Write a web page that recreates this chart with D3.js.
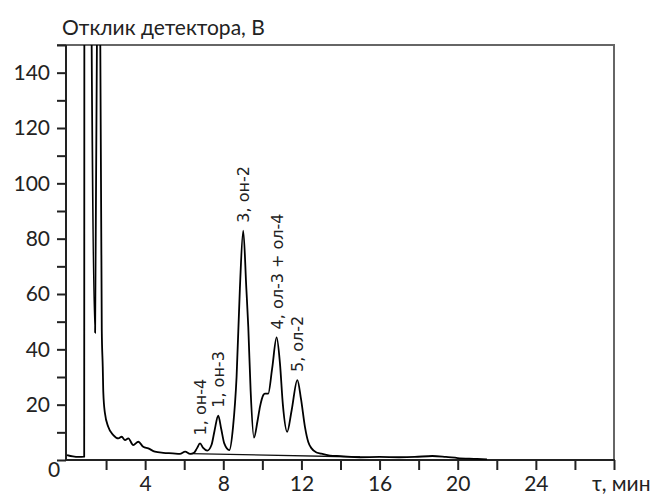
<!DOCTYPE html>
<html>
<head>
<meta charset="utf-8">
<script src="https://cdn.jsdelivr.net/npm/d3@7"></script>
<style>
  body { margin: 0; background: #fff; }
  svg text { font-family: Lato, "Liberation Sans", sans-serif; }
</style>
</head>
<body>
<svg id="chart" width="656" height="495"></svg>
<script>
// хроматограмма: время (мин) и отклик детектора (В)
const times = [
  0.00, 0.30, 0.60, 0.88, 0.895, 1.10, 1.255, 1.44, 1.54, 1.60, 1.68, 1.69,
  1.78, 1.83, 1.86, 1.94, 2.11, 2.37, 2.63, 2.80, 2.97, 3.14, 3.39, 3.65,
  3.90, 4.16, 4.50, 4.93, 5.42, 5.78, 6.05, 6.30,
  6.50, 6.65, 6.81, 6.97, 7.18,
  7.40, 7.55, 7.74, 7.90, 8.05, 8.31,
  8.50, 8.68, 8.85, 9.02, 9.18, 9.28, 9.40, 9.57,
  9.75, 9.88, 10.05, 10.13, 10.30,
  10.50, 10.73, 10.90, 11.05, 11.27,
  11.50, 11.79, 11.98, 12.18, 12.35, 12.52, 12.75, 12.95,
  13.46, 14.0, 15.0, 16.0, 17.0, 17.8, 18.7, 19.4, 20.0, 21.0, 21.5
];
const response = [
  1.8, 1.3, 1.1, 1.2, 300, 600, 160, 46, 160, 400, 400, 170,
  47, 33.7, 24.2, 17, 12, 9, 7.8, 8.4, 7.2, 7.8, 5.4, 6.6,
  4.8, 4.2, 3.0, 2.6, 2.4, 2.2, 3.0, 2.2,
  2.6, 4.2, 6.0, 4.4, 3.4,
  5.5, 10.5, 16.0, 11, 6, 3.6,
  12, 30, 62, 82.9, 62, 48, 25, 8.1,
  14, 19.3, 23.5, 24, 24,
  33, 44.3, 35, 20, 10.2,
  18, 28.9, 22, 12, 6.5, 4.2, 2.8, 2.4,
  1.6, 1.4, 1.0, 1.1, 1.0, 1.1, 1.45, 1.1, 0.7, 0.4, 0.2
];

// базовая линия под пиками
const baselineTimes = [6.3, 15.0];
const baselineValues = [2.3, 1.1];

// подписи пиков
const peakLabels = ["1, он-4", "1, он-3", "3, он-2", "4, ол-3 + ол-4", "5, ол-2"];
const peakTimes = [6.81, 7.74, 9.02, 10.73, 11.79];
const peakValues = [6.0, 16.0, 82.9, 44.3, 28.9];

const yTicks = d3.range(0, 151, 10);
const yTickLabels = [20, 40, 60, 80, 100, 120, 140];
const xTicks = d3.range(2, 29, 2);
const xTickLabels = [4, 8, 12, 16, 20, 24];

const svg = d3.select("#chart");

const x = d3.scaleLinear().domain([0, 28]).range([67, 614]);
const y = d3.scaleLinear().domain([0, 150]).range([460, 45]);

svg.append("defs").append("clipPath").attr("id", "plot-clip")
  .append("rect")
  .attr("x", x(0) - 1).attr("y", y(150))
  .attr("width", x(28) - x(0) + 2).attr("height", y(0) - y(150));

// рамка сверху и справа
svg.append("line")
  .attr("x1", 57).attr("x2", x(28) + 1)
  .attr("y1", y(150)).attr("y2", y(150))
  .attr("stroke", "#666").attr("stroke-width", 2);
svg.append("line")
  .attr("x1", x(28)).attr("x2", x(28))
  .attr("y1", y(150)).attr("y2", y(0))
  .attr("stroke", "#666").attr("stroke-width", 2);

// оси
const yAxis = svg.append("g")
  .attr("transform", `translate(${x(0) - 1},0)`)
  .call(d3.axisLeft(y)
    .tickValues(yTicks)
    .tickSize(9)
    .tickSizeOuter(0)
    .tickPadding(7)
    .tickFormat(d => yTickLabels.includes(d) ? d : ""));

const xAxis = svg.append("g")
  .attr("transform", `translate(0,${y(0)})`)
  .call(d3.axisBottom(x)
    .tickValues(xTicks)
    .tickSize(10)
    .tickSizeOuter(0)
    .tickPadding(6)
    .tickFormat(d => xTickLabels.includes(d) ? d : ""));

[yAxis, xAxis].forEach(g => {
  g.select(".domain").attr("stroke", "#222").attr("stroke-width", 2);
  g.selectAll(".tick line").attr("stroke", "#222").attr("stroke-width", 2);
  g.selectAll(".tick text")
    .attr("fill", "#222")
    .style("font-size", "21px")
    .style("font-family", "Lato, sans-serif");
});
xAxis.select(".domain").attr("d", `M${x(0) - 2},0H${x(28) + 1}`);
yAxis.select(".domain").attr("d", `M0,${y(150)}V${y(0) + 1}`);

svg.append("text")
  .attr("x", 54).attr("y", 477)
  .attr("text-anchor", "middle")
  .attr("fill", "#222")
  .style("font-size", "21px")
  .text("0");

svg.append("text")
  .attr("x", x(28) - 22).attr("y", 491)
  .attr("fill", "#222")
  .style("font-size", "21px")
  .text("τ, мин");

svg.append("text")
  .attr("x", 62).attr("y", 35)
  .attr("fill", "#222")
  .style("font-size", "21px")
  .text("Отклик детектора, В");

// кривая
const points = times.map((t, i) => [t, response[i]]);
const line = d3.line()
  .x(d => x(d[0]))
  .y(d => y(d[1]))
  .curve(d3.curveMonotoneX);

const plot = svg.append("g").attr("clip-path", "url(#plot-clip)");

plot.append("path")
  .datum(baselineTimes.map((t, i) => [t, baselineValues[i]]))
  .attr("d", d3.line().x(d => x(d[0])).y(d => y(d[1])))
  .attr("fill", "none")
  .attr("stroke", "#111")
  .attr("stroke-width", 1.4);

plot.append("path")
  .datum(points)
  .attr("d", line)
  .attr("fill", "none")
  .attr("stroke", "#000")
  .attr("stroke-width", 1.8)
  .attr("stroke-linejoin", "round");

// подписи пиков
svg.selectAll(".peak-label")
  .data(peakLabels)
  .enter()
  .append("text")
  .attr("class", "peak-label")
  .attr("transform", (d, i) => `translate(${x(peakTimes[i]) + 6},${y(peakValues[i]) - 8}) rotate(-90)`)
  .attr("fill", "#222")
  .style("font-family", "'DejaVu Sans', sans-serif")
  .style("font-size", "16px")
  .text(d => d);
</script>
</body>
</html>
